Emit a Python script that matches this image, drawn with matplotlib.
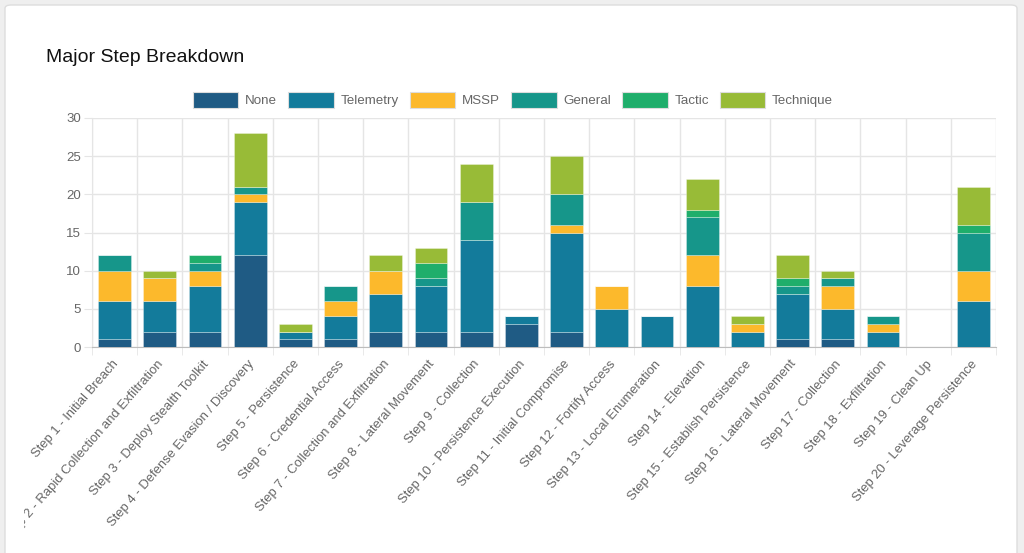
import matplotlib
matplotlib.use("Agg")
import matplotlib.pyplot as plt
import numpy as np
from matplotlib.patches import FancyBboxPatch, Patch
from matplotlib.transforms import Bbox, TransformedBbox, ScaledTranslation

plt.rcParams['font.family'] = ['Liberation Sans', 'DejaVu Sans']

# data
steps = [
    "Step 1 - Initial Breach",
    "Step 2 - Rapid Collection and Exfiltration",
    "Step 3 - Deploy Stealth Toolkit",
    "Step 4 - Defense Evasion / Discovery",
    "Step 5 - Persistence",
    "Step 6 - Credential Access",
    "Step 7 - Collection and Exfiltration",
    "Step 8 - Lateral Movement",
    "Step 9 - Collection",
    "Step 10 - Persistence Execution",
    "Step 11 - Initial Compromise",
    "Step 12 - Fortify Access",
    "Step 13 - Local Enumeration",
    "Step 14 - Elevation",
    "Step 15 - Establish Persistence",
    "Step 16 - Lateral Movement",
    "Step 17 - Collection",
    "Step 18 - Exfiltration",
    "Step 19 - Clean Up",
    "Step 20 - Leverage Persistence",
]
none_vals      = [1, 2, 2, 12, 1, 1, 2, 2, 2, 3, 2, 0, 0, 0, 0, 1, 1, 0, 0, 0]
telemetry_vals = [5, 4, 6, 7, 1, 3, 5, 6, 12, 1, 13, 5, 4, 8, 2, 6, 4, 2, 0, 6]
mssp_vals      = [4, 3, 2, 1, 0, 2, 3, 0, 0, 0, 1, 3, 0, 4, 1, 0, 3, 1, 0, 4]
general_vals   = [2, 0, 1, 1, 0, 2, 0, 1, 5, 0, 4, 0, 0, 5, 0, 1, 1, 1, 0, 5]
tactic_vals    = [0, 0, 1, 0, 0, 0, 0, 2, 0, 0, 0, 0, 0, 1, 0, 1, 0, 0, 0, 1]
technique_vals = [0, 1, 0, 7, 1, 0, 2, 2, 5, 0, 5, 0, 0, 4, 1, 3, 1, 0, 0, 5]

series = [
    ("None", none_vals, "#1f5b84"),
    ("Telemetry", telemetry_vals, "#137b9b"),
    ("MSSP", mssp_vals, "#fcb92c"),
    ("General", general_vals, "#16968a"),
    ("Tactic", tactic_vals, "#1fae6b"),
    ("Technique", technique_vals, "#98bb37"),
]

W, H = 1024, 553
fig = plt.figure(figsize=(W / 100, H / 100), dpi=100)
fig.patch.set_facecolor("#efefef")

# white card behind everything
card = FancyBboxPatch((5 / W, -0.05), 1012 / W, 1 - 5 / H + 0.05,
                      boxstyle="round,pad=0,rounding_size=0.006",
                      transform=fig.transFigure, facecolor="white",
                      edgecolor="#dddddd", linewidth=1.0, zorder=-10)
fig.patches.append(card)

ax = fig.add_axes([92 / W, 1 - 347 / H, 904 / W, 229 / H])
ax.set_facecolor("none")

x = np.arange(len(steps))
bottom = np.zeros(len(steps))
for name, vals, col in series:
    v = np.array(vals, dtype=float)
    ax.bar(x, v, bottom=bottom, width=0.73, color=col,
           edgecolor=(1, 1, 1, 0.35), linewidth=0.6, label=name, zorder=3)
    bottom += v

ax.set_xlim(-0.5, len(steps) - 0.5)
ax.set_ylim(0, 30)
ax.set_yticks(np.arange(0, 31, 5))

# grid lines between categories and at y ticks
ax.set_xticks(np.arange(-0.5, len(steps), 1), minor=True)
ax.grid(True, which="minor", axis="x", color="#e5e5e5", linewidth=1, zorder=0)
ax.grid(True, which="major", axis="y", color="#e5e5e5", linewidth=1, zorder=0)

ax.set_xticks(x)
ax.set_xticklabels(steps, rotation=49, ha="right", rotation_mode="anchor",
                   fontsize=9.4, color="#666666")
ax.tick_params(axis="x", which="major", length=0, pad=8)
ax.tick_params(axis="x", which="minor", length=6, color="#e5e5e5")
ax.tick_params(axis="y", length=6, color="#e5e5e5", labelsize=9.5,
               labelcolor="#666666", pad=2)

for s in ["top", "right"]:
    ax.spines[s].set_visible(False)
ax.spines["left"].set_color("#e5e5e5")
ax.spines["bottom"].set_color("#bdbdbd")

# shift labels a little left, and cut the long one at the canvas edge
shift = ScaledTranslation(-3 / 100, 0, fig.dpi_scale_trans)
clip = TransformedBbox(Bbox([[24 / W, 0], [1, 1]]), fig.transFigure)
for lab in ax.get_xticklabels():
    lab.set_transform(lab.get_transform() + shift)
    lab.set_clip_on(True)
    lab.set_clip_box(clip)

fig.text(46 / W, 1 - 58 / H, "Major Step Breakdown", fontsize=14,
         color="#111111", ha="left", va="center")

handles = [Patch(facecolor=c, edgecolor="#dddddd", linewidth=0.8, label=n)
           for n, _, c in series]
fig.legend(handles=handles, loc="center", bbox_to_anchor=(513 / W, 1 - 100 / H),
           ncol=6, frameon=False, fontsize=9.6, labelcolor="#666666",
           handlelength=3.4, handleheight=1.4, handletextpad=0.5,
           columnspacing=0.85)

fig.savefig("out.png", dpi=100, facecolor=fig.get_facecolor())
